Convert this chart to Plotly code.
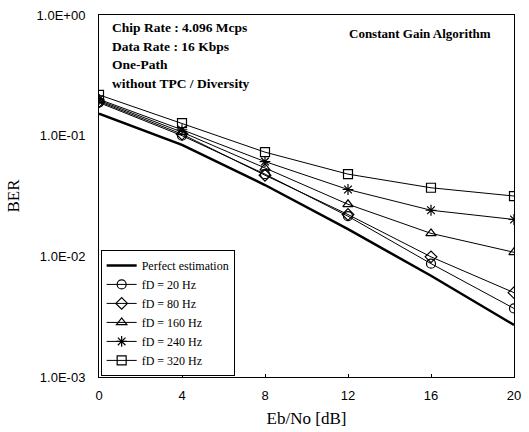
import plotly.graph_objects as go

ebno = [0, 4, 8, 12, 16, 20]
perfect = [0.152, 0.084, 0.039, 0.0168, 0.0069, 0.0027]
fd20 = [0.188, 0.100, 0.048, 0.0215, 0.0087, 0.0037]
fd80 = [0.192, 0.103, 0.047, 0.0222, 0.0099, 0.0050]
fd160 = [0.196, 0.107, 0.054, 0.0270, 0.0155, 0.0108]
fd240 = [0.200, 0.112, 0.061, 0.0358, 0.0241, 0.0202]
fd320 = [0.218, 0.127, 0.073, 0.0480, 0.0370, 0.0316]

series = [
    ("Perfect estimation", perfect, None),
    ("fD = 20 Hz", fd20, "circle-open"),
    ("fD = 80 Hz", fd80, "diamond-open"),
    ("fD = 160 Hz", fd160, "triangle-up-open"),
    ("fD = 240 Hz", fd240, "asterisk-open"),
    ("fD = 320 Hz", fd320, "square-open"),
]

y_tickvals = [1, 0.1, 0.01, 0.001]
y_ticktext = ["1.0E+00", "1.0E-01", "1.0E-02", "1.0E-03"]
x_tickvals = [0, 4, 8, 12, 16, 20]

fig = go.Figure()
for name, vals, sym in series:
    if sym is None:
        fig.add_trace(go.Scatter(x=ebno, y=vals, name=name, mode="lines",
                                 line=dict(color="black", width=2.5)))
    else:
        fig.add_trace(go.Scatter(x=ebno, y=vals, name=name, mode="lines+markers",
                                 line=dict(color="black", width=1),
                                 marker=dict(symbol=sym, size=9, color="black",
                                             line=dict(width=1.2, color="black"))))

serif = "Liberation Serif, Times New Roman, serif"
sans = "Liberation Sans, Arial, sans-serif"

fig.update_layout(
    width=529, height=432,
    margin=dict(l=99, r=8, t=13, b=55),
    paper_bgcolor="white", plot_bgcolor="white",
    showlegend=True,
    legend=dict(x=0.004, y=0.003, xanchor="left", yanchor="bottom",
                bgcolor="white", bordercolor="black", borderwidth=1,
                font=dict(family=serif, size=12, color="black"),
                tracegroupgap=0, itemwidth=30),
    xaxis=dict(range=[0, 20], tickvals=x_tickvals, showgrid=False, zeroline=False,
               showline=True, linecolor="black", linewidth=1, mirror=True,
               ticks="inside", ticklen=3, tickcolor="black", ticklabelstandoff=6,
               tickfont=dict(family=sans, size=13, color="black"),
               title=dict(text="Eb/No [dB]", font=dict(family=serif, size=17, color="black"),
                          standoff=10)),
    yaxis=dict(type="log", range=[-3, 0], tickvals=y_tickvals, ticktext=y_ticktext,
               showgrid=False, zeroline=False,
               showline=True, linecolor="black", linewidth=1, mirror=True,
               ticks="", ticklabelstandoff=10,
               tickfont=dict(family=sans, size=13, color="black"),
               title=dict(text="BER", font=dict(family=serif, size=17, color="black"),
                          standoff=12)),
)

notes = ["Chip Rate : 4.096 Mcps", "Data Rate : 16 Kbps", "One-Path",
         "without TPC / Diversity"]
for i, t in enumerate(notes):
    fig.add_annotation(x=0, y=1, xref="paper", yref="paper", xanchor="left", yanchor="top",
                       xshift=11, yshift=-3 - 18.5 * i, text="<b>" + t + "</b>", showarrow=False,
                       font=dict(family=serif, size=13.5, color="black"))
fig.add_annotation(x=1, y=1, xref="paper", yref="paper", xanchor="right", yanchor="top",
                   xshift=-21, yshift=-9, text="<b>Constant Gain Algorithm</b>", showarrow=False,
                   font=dict(family=serif, size=13, color="black"))

fig.write_html("out.html")
